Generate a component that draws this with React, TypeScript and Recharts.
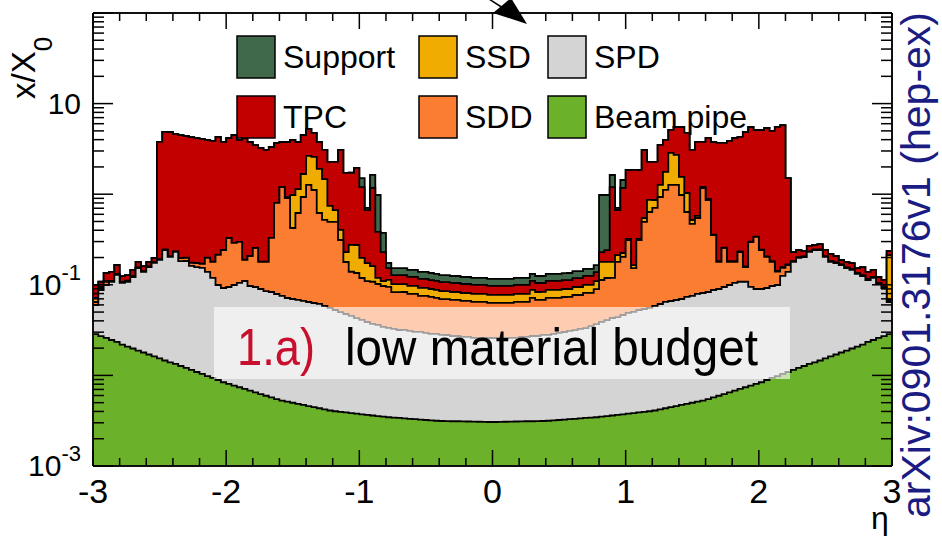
import { AreaChart, Area, XAxis, YAxis } from "recharts";

const FONT = "'Liberation Sans', Arial, Helvetica, sans-serif";

// 150 bins of 0.04 in eta, from -3 to 3; values are x/X0 per detector
const ETA_MIN = -3;
const BIN_WIDTH = 0.04;

const beamPipe = [
  0.0286, 0.0272, 0.0259, 0.0246, 0.0234, 0.0219, 0.0208, 0.0198, 0.0188, 0.0179,
  0.0170, 0.0162, 0.0154, 0.0146, 0.0139, 0.0134, 0.0127, 0.0121, 0.0115, 0.0109,
  0.0104, 0.0098, 0.0094, 0.0089, 0.0084, 0.00807, 0.00773, 0.0074, 0.00709, 0.00679,
  0.0065, 0.00622, 0.00596, 0.00571, 0.00547, 0.00528, 0.00513, 0.00499, 0.00485, 0.00472,
  0.00459, 0.00446, 0.00434, 0.00422, 0.0041, 0.00402, 0.00396, 0.0039, 0.00384, 0.00378,
  0.00372, 0.00366, 0.00361, 0.00355, 0.0035, 0.00345, 0.00342, 0.00339, 0.00335, 0.00332,
  0.00329, 0.00325, 0.00322, 0.00319, 0.00316, 0.00314, 0.00313, 0.00312, 0.00312, 0.00311,
  0.0031, 0.00309, 0.00308, 0.00307, 0.00306, 0.00306, 0.00307, 0.00308, 0.00309, 0.0031,
  0.00311, 0.00312, 0.00312, 0.00313, 0.00314, 0.00316, 0.00319, 0.00322, 0.00325, 0.00329,
  0.00332, 0.00335, 0.00339, 0.00342, 0.00345, 0.0035, 0.00355, 0.00361, 0.00366, 0.00372,
  0.00378, 0.00384, 0.0039, 0.00396, 0.00402, 0.0041, 0.00422, 0.00434, 0.00446, 0.00459,
  0.00472, 0.00485, 0.00499, 0.00513, 0.00528, 0.00547, 0.00571, 0.00596, 0.00622, 0.0065,
  0.00679, 0.00709, 0.0074, 0.00773, 0.00807, 0.0084, 0.0089, 0.0094, 0.0098, 0.0104,
  0.0109, 0.0115, 0.0121, 0.0127, 0.0134, 0.0139, 0.0146, 0.0154, 0.0162, 0.017,
  0.0179, 0.0188, 0.0198, 0.0208, 0.0219, 0.0234, 0.0246, 0.0259, 0.0272, 0.0286,
];

const spd = [
  0.0312, 0.0604, 0.0736, 0.083, 0.105, 0.083, 0.087, 0.102, 0.134, 0.121,
  0.14, 0.158, 0.173, 0.227, 0.189, 0.217, 0.17, 0.171, 0.15, 0.146,
  0.143, 0.129, 0.11, 0.0906, 0.0838, 0.0865, 0.0918, 0.0976, 0.103, 0.0902,
  0.0881, 0.0837, 0.0794, 0.0776, 0.0737, 0.07, 0.0664, 0.0647, 0.0632, 0.0616,
  0.06, 0.0585, 0.0571, 0.0542, 0.0514, 0.0487, 0.0461, 0.0437, 0.0415, 0.0392,
  0.0372, 0.0352, 0.0334, 0.0325, 0.0308, 0.03, 0.0292, 0.0283, 0.0284, 0.0277,
  0.0269, 0.027, 0.0262, 0.0255, 0.0255, 0.0248, 0.0248, 0.0241, 0.0241, 0.0235,
  0.0235, 0.0228, 0.0228, 0.0228, 0.0228, 0.0228, 0.0228, 0.0228, 0.0228, 0.0228,
  0.0235, 0.0235, 0.0241, 0.0241, 0.0248, 0.0248, 0.0255, 0.0262, 0.0269, 0.0277,
  0.0283, 0.0292, 0.0299, 0.0316, 0.0334, 0.0354, 0.0373, 0.0394, 0.0404, 0.0427,
  0.0451, 0.0463, 0.0488, 0.0501, 0.0515, 0.0543, 0.0572, 0.0603, 0.0618, 0.0634,
  0.065, 0.0686, 0.0703, 0.0741, 0.0759, 0.0778, 0.0819, 0.0839, 0.0884, 0.093,
  0.0982, 0.101, 0.1006, 0.0869, 0.0818, 0.0815, 0.0833, 0.0876, 0.0897, 0.115,
  0.128, 0.1675, 0.186, 0.19, 0.217, 0.228, 0.227, 0.188, 0.163, 0.157,
  0.147, 0.134, 0.126, 0.111, 0.103, 0.0896, 0.0944, 0.0761, 0.065, 0.036,
];

const sdd = [
  0.0048, 0.0046, 0.0085, 0.002, 0.002, 0.002, 0.002, 0.002, 0.002, 0.002,
  0.002, 0.002, 0.002, 0.002, 0.002, 0.002, 0.015, 0.015, 0.013, 0.017,
  0.017, 0.059, 0.06, 0.114, 0.15, 0.234, 0.19, 0.192, 0.078, 0.111,
  0.16, 0.089, 0.094, 0.246, 0.721, 1.12, 0.836, 0.354, 0.552, 0.865,
  1.2, 1.05, 0.559, 0.461, 0.439, 0.441, 0.262, 0.131, 0.094, 0.092,
  0.078, 0.071, 0.071, 0.066, 0.0627, 0.0612, 0.0506, 0.0515, 0.0515, 0.0484,
  0.0492, 0.0454, 0.0462, 0.0447, 0.0431, 0.0417, 0.0417, 0.0408, 0.0408, 0.0397,
  0.0397, 0.0388, 0.0388, 0.0388, 0.0372, 0.0372, 0.0372, 0.0372, 0.0372, 0.0388,
  0.0381, 0.0381, 0.0446, 0.0408, 0.0401, 0.0439, 0.0431, 0.0424, 0.0432, 0.0424,
  0.0455, 0.0446, 0.0482, 0.0465, 0.0527, 0.0741, 0.078, 0.076, 0.135, 0.157,
  0.263, 0.103, 0.259, 0.44, 0.581, 0.647, 0.87, 1.05, 1.2, 1.2,
  0.91, 0.563, 0.394, 0.467, 1.09, 0.78, 0.267, 0.089, 0.16, 0.08,
  0.074, 0.122, 0.049, 0.202, 0.248, 0.152, 0.111, 0.082, 0.04, 0.028,
  0.026, 0.002, 0.002, 0.002, 0.002, 0.002, 0.002, 0.002, 0.002, 0.002,
  0.002, 0.002, 0.002, 0.002, 0.002, 0.002, 0.002, 0.002, 0.002, 0.0034,
];

const ssd = [
  0.0069, 0.0024, 0.002, 0.001, 0.001, 0.001, 0.001, 0.001, 0.001, 0.001,
  0.001, 0.001, 0.001, 0.001, 0.001, 0.001, 0.001, 0.001, 0.001, 0.001,
  0.001, 0.001, 0.001, 0.001, 0.001, 0.001, 0.001, 0.001, 0.001, 0.001,
  0.001, 0.001, 0.001, 0.001, 0.001, 0.001, 0.023, 0.556, 0.52, 0.74,
  1.39, 1.47, 1.28, 0.95, 0.247, 0.175, 0.091, 0.051, 0.136, 0.14,
  0.079, 0.064, 0.053, 0.017, 0.013, 0.0184, 0.0187, 0.0187, 0.0187, 0.0179,
  0.0179, 0.017, 0.017, 0.0165, 0.0162, 0.0157, 0.0157, 0.0153, 0.0153, 0.0149,
  0.0149, 0.0146, 0.0146, 0.0146, 0.0142, 0.0142, 0.0142, 0.0142, 0.0142, 0.0146,
  0.0146, 0.0146, 0.0162, 0.0153, 0.0153, 0.0162, 0.0162, 0.0162, 0.0165, 0.0165,
  0.0174, 0.0174, 0.0184, 0.0184, 0.0202, 0.066, 0.06, 0.06, 0.034, 0.021,
  0.009, 0.012, 0.009, 0.052, 0.227, 0.158, 0.333, 0.65, 1.59, 1.45,
  0.57, 0.394, 0.05, 0.029, 0.03, 0.022, 0.003, 0.003, 0.003, 0.003,
  0.003, 0.003, 0.003, 0.003, 0.003, 0.003, 0.003, 0.003, 0.003, 0.003,
  0.003, 0.001, 0.001, 0.001, 0.001, 0.001, 0.001, 0.001, 0.001, 0.001,
  0.001, 0.001, 0.001, 0.001, 0.001, 0.001, 0.001, 0.001, 0.001, 0.145,
];

const tpc = [
  0.028, 0.0134, 0.025, 0.028, 0.034, 0.017, 0.017, 0.021, 0.023, 0.019,
  0.019, 0.021, 3.58, 4.62, 4.65, 4.39, 4.3, 4.19, 4.1, 3.99,
  3.9, 3.77, 3.69, 4.07, 3.53, 3.84, 4.21, 3.67, 3.98, 3.56,
  3.23, 3.06, 2.9, 2.99, 2.88, 2.57, 2.84, 2.99, 2.63, 2.83,
  2.6, 2.16, 1.87, 1.61, 1.53, 1.6, 2.68, 1.49, 1.45, 1.68,
  1.0, 0.495, 1.01, 0.264, 0.12, 0.04, 0.0261, 0.0261, 0.0261, 0.0249,
  0.0249, 0.0237, 0.0237, 0.023, 0.0225, 0.0218, 0.0218, 0.0213, 0.0213, 0.0208,
  0.0208, 0.0203, 0.0203, 0.0203, 0.0198, 0.0198, 0.0198, 0.0198, 0.0198, 0.0203,
  0.0203, 0.0203, 0.0225, 0.0213, 0.0213, 0.0225, 0.0225, 0.0225, 0.023, 0.023,
  0.0242, 0.0242, 0.0256, 0.0256, 0.0282, 0.051, 0.063, 1.02, 0.456, 0.946,
  1.53, 1.69, 1.53, 2.53, 1.41, 1.41, 2.23, 2.21, 2.26, 2.81,
  3.97, 3.71, 2.56, 3.2, 2.57, 3.29, 3.41, 3.5, 3.42, 3.69,
  3.99, 4.05, 4.7, 5.22, 4.77, 4.87, 5.17, 4.81, 5.38, 5.64,
  1.34, 0.048, 0.041, 0.03, 0.035, 0.03, 0.037, 0.036, 0.037, 0.031,
  0.02, 0.023, 0.025, 0.018, 0.029, 0.023, 0.024, 0.017, 0.018, 0.023,
];

const support = [
  0, 0, 0, 0, 0, 0, 0, 0, 0, 0,
  0, 0, 0, 0, 0, 0, 0, 0, 0, 0,
  0, 0, 0, 0, 0, 0, 0, 0, 0, 0,
  0, 0, 0, 0, 0, 0, 0, 0, 0, 0,
  0, 0, 0, 0, 0, 0, 0, 0, 0, 0,
  0.31, 0.036, 0.46, 0.597, 0.144, 0.021, 0.0249, 0.0249, 0.0249, 0.0238,
  0.0238, 0.0227, 0.0227, 0.022, 0.0215, 0.0209, 0.0209, 0.0204, 0.0204, 0.0199,
  0.0199, 0.0194, 0.0194, 0.0194, 0.0189, 0.0189, 0.0189, 0.0189, 0.0189, 0.0194,
  0.0194, 0.0194, 0.0215, 0.0204, 0.0204, 0.0215, 0.0215, 0.0215, 0.022, 0.022,
  0.0231, 0.0231, 0.0245, 0.0245, 0.0269, 0.75, 0.738, 0.43, 0.036, 0.265,
  0, 0, 0, 0, 0, 0, 0, 0, 0, 0,
  0, 0, 0, 0, 0, 0, 0, 0, 0, 0,
  0, 0, 0, 0, 0, 0, 0, 0, 0, 0,
  0, 0, 0, 0, 0, 0, 0, 0, 0, 0,
  0, 0, 0, 0, 0, 0, 0, 0, 0, 0,
];

const xTicks = [
  -3, -2.8, -2.6, -2.4, -2.2, -2, -1.8, -1.6, -1.4, -1.2, -1, -0.8, -0.6, -0.4, -0.2, 0,
  0.2, 0.4, 0.6, 0.8, 1, 1.2, 1.4, 1.6, 1.8, 2, 2.2, 2.4, 2.6, 2.8, 3,
];
const yTicks = [
  0.001, 0.002, 0.003, 0.004, 0.005, 0.006, 0.007, 0.008, 0.009,
  0.01, 0.02, 0.03, 0.04, 0.05, 0.06, 0.07, 0.08, 0.09,
  0.1, 0.2, 0.3, 0.4, 0.5, 0.6, 0.7, 0.8, 0.9,
  1, 2, 3, 4, 5, 6, 7, 8, 9,
  10, 20, 30, 40, 50, 60, 70, 80, 90, 100,
];
const yLabelTicks = [0.001, 0.1, 10];

// stacking order, bottom to top
const layers = [
  { key: "beam", name: "Beam pipe", color: "#6bb22a", values: beamPipe },
  { key: "spd", name: "SPD", color: "#d4d4d4", values: spd },
  { key: "sdd", name: "SDD", color: "#fb7d32", values: sdd },
  { key: "ssd", name: "SSD", color: "#f0ac00", values: ssd },
  { key: "tpc", name: "TPC", color: "#c20000", values: tpc },
  { key: "support", name: "Support", color: "#40694b", values: support },
];

// cumulative tops per bin, with a closing point at the last bin edge
const rows = beamPipe.map((_, i) => {
  const row: Record<string, number> = { x: Math.round((ETA_MIN + BIN_WIDTH * i) * 100) / 100 };
  let sum = 0;
  layers.forEach((l) => {
    sum += l.values[i];
    row[l.key] = sum;
  });
  return row;
});
rows.push({ ...rows[rows.length - 1], x: 3 });

const isMajorY = (v: number) => {
  const l = Math.log10(v);
  return Math.abs(l - Math.round(l)) < 1e-6;
};

const BottomTick = ({ x, y, payload }: any) => {
  const major = Number.isInteger(payload.value);
  return (
    <g>
      <line x1={x} x2={x} y1={y} y2={y - (major ? 16 : 8)} stroke="#000" strokeWidth={1.5} />
      {major && (
        <text x={x} y={y + 37} textAnchor="middle" fontSize={34} fontFamily={FONT} fill="#000">
          {payload.value}
        </text>
      )}
    </g>
  );
};

const TopTick = ({ x, y, payload }: any) => {
  const major = Number.isInteger(payload.value);
  return <line x1={x} x2={x} y1={y} y2={y + (major ? 16 : 8)} stroke="#000" strokeWidth={1.5} />;
};

const LeftTick = ({ x, y, payload }: any) => {
  const v = payload.value;
  const major = isMajorY(v);
  const exp = Math.round(Math.log10(v));
  return (
    <g>
      <line x1={x} x2={x + (major ? 20 : 11)} y1={y} y2={y} stroke="#000" strokeWidth={1.5} />
      {yLabelTicks.includes(v) && (
        <text x={x - 12} y={y + 10} textAnchor="end" fontSize={30} fontFamily={FONT} fill="#000">
          10
          {exp !== 1 && (
            <tspan dy={-15} fontSize={22}>
              {exp}
            </tspan>
          )}
        </text>
      )}
    </g>
  );
};

const RightTick = ({ x, y, payload }: any) => {
  const major = isMajorY(payload.value);
  return <line x1={x} x2={x - (major ? 20 : 11)} y1={y} y2={y} stroke="#000" strokeWidth={1.5} />;
};

const legendItems = [
  { name: "Support", color: "#40694b", x: 237, y: 36 },
  { name: "TPC", color: "#c20000", x: 237, y: 96 },
  { name: "SSD", color: "#f0ac00", x: 419, y: 36 },
  { name: "SDD", color: "#fb7d32", x: 419, y: 96 },
  { name: "SPD", color: "#d4d4d4", x: 548, y: 36 },
  { name: "Beam pipe", color: "#6bb22a", x: 548, y: 96 },
];

const axisLine = { stroke: "#111", strokeWidth: 2 };

export default function App() {
  return (
    <div style={{ position: "absolute", left: 0, top: 0, width: 942, height: 539, background: "#fff" }}>
      <AreaChart width={942} height={539} data={rows} margin={{ top: 0, right: 0, bottom: 0, left: 0 }}>
        <XAxis
          dataKey="x"
          type="number"
          domain={[-3, 3]}
          allowDataOverflow
          ticks={xTicks}
          interval={0}
          tickSize={0}
          tickMargin={0}
          tickLine={false}
          height={73}
          axisLine={axisLine}
          tick={<BottomTick />}
        />
        <XAxis
          xAxisId="top"
          orientation="top"
          dataKey="x"
          type="number"
          domain={[-3, 3]}
          allowDataOverflow
          ticks={xTicks}
          interval={0}
          tickSize={0}
          tickMargin={0}
          tickLine={false}
          height={13}
          axisLine={axisLine}
          tick={<TopTick />}
        />
        <YAxis
          scale="log"
          type="number"
          domain={[0.001, 100]}
          allowDataOverflow
          ticks={yTicks}
          interval={0}
          tickSize={0}
          tickMargin={0}
          tickLine={false}
          width={93}
          axisLine={axisLine}
          tick={<LeftTick />}
        />
        <YAxis
          yAxisId="right"
          orientation="right"
          scale="log"
          type="number"
          domain={[0.001, 100]}
          allowDataOverflow
          ticks={yTicks}
          interval={0}
          tickSize={0}
          tickMargin={0}
          tickLine={false}
          width={50}
          axisLine={axisLine}
          tick={<RightTick />}
        />
        {[...layers].reverse().map((l) => (
          <Area
            key={l.key}
            type="stepAfter"
            dataKey={l.key}
            name={l.name}
            fill={l.color}
            fillOpacity={1}
            stroke="#000"
            strokeWidth={1.8}
            baseValue="dataMin"
            dot={false}
            activeDot={false}
            isAnimationActive={false}
          />
        ))}
      </AreaChart>

      <svg
        width={942}
        height={539}
        style={{ position: "absolute", left: 0, top: 0, pointerEvents: "none" }}
        fontFamily={FONT}
      >
        {legendItems.map((item) => (
          <g key={item.name}>
            <rect x={item.x} y={item.y} width={38} height={42} fill={item.color} stroke="#000" strokeWidth={1.5} />
            <text x={item.x + 46} y={item.y + 32} fontSize={32} fill="#000">
              {item.name}
            </text>
          </g>
        ))}

        <rect x={214} y={307} width={576} height={72} fill="#fff" fillOpacity={0.62} />
        <text x={237} y={365} fontSize={52} fill="#c8102e" textLength={78} lengthAdjust="spacingAndGlyphs">
          1.a)
        </text>
        <text x={345} y={365} fontSize={52} fill="#000" textLength={413} lengthAdjust="spacingAndGlyphs">
          low material budget
        </text>

        <text transform="translate(35,99) rotate(-90)" fontSize={33} fill="#000">
          x/X
          <tspan dy={17} fontSize={26}>
            0
          </tspan>
        </text>
        <text x={880} y={529} fontSize={32} textAnchor="middle" fill="#000">
          η
        </text>

        <text
          transform="translate(930,518) rotate(-90)"
          fontSize={40}
          fill="#1b1b84"
          textLength={506}
          lengthAdjust="spacingAndGlyphs"
        >
          arXiv:0901.3176v1 (hep-ex)
        </text>

        <line x1={478} y1={-8} x2={503} y2={8} stroke="#000" strokeWidth={1.5} />
        <polygon points="493,13 511,-2 527,24" fill="#000" />
      </svg>
    </div>
  );
}
